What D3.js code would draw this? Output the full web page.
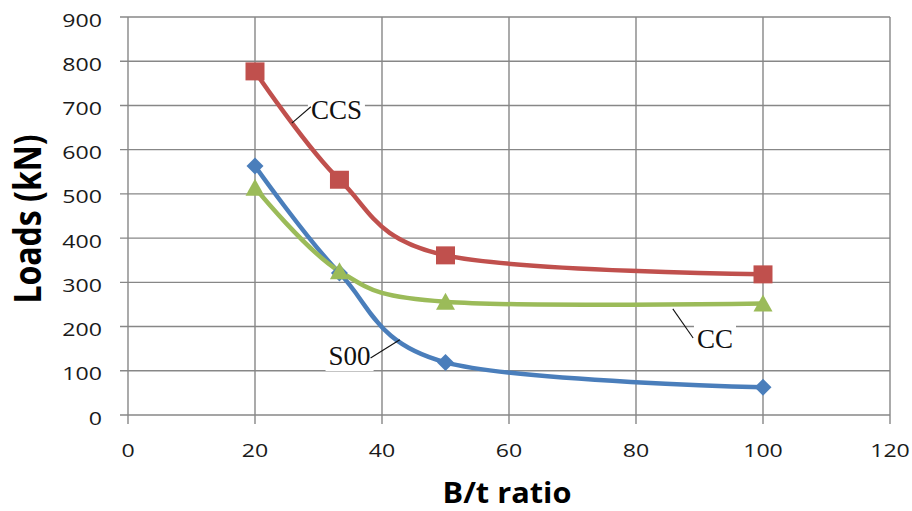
<!DOCTYPE html>
<html>
<head>
<meta charset="utf-8">
<script src="https://cdn.jsdelivr.net/npm/d3@7"></script>
<style>
  html, body { margin: 0; padding: 0; background: #fff; }
  svg { display: block; }
</style>
</head>
<body>
<svg id="chart" width="912" height="511"></svg>
<script>
// B/t ratio of the tested sections
const ratios = [20, 33.3, 50, 100];

// Ultimate loads (kN) per specimen series
const loadsS00 = [563, 321, 119, 63];
const loadsCCS = [777, 532, 361, 318];
const loadsCC  = [514, 325, 256, 252];

const xTicks = [0, 20, 40, 60, 80, 100, 120];
const yTicks = [0, 100, 200, 300, 400, 500, 600, 700, 800, 900];

const seriesNames  = ["S00", "CCS", "CC"];
const seriesValues = [loadsS00, loadsCCS, loadsCC];

// Callout labels: text anchor, leader line ends (data units)
const calloutText   = ["CCS", "S00", "CC"];
const calloutAnchor = [[28.8, 669], [38.2, 113], [89.6, 152]];
const calloutAlign  = ["start", "end", "start"];
const calloutLeader = [[[25.8, 660], [28.8, 697]], [[38.2, 129], [42.8, 170]], [[85.8, 240], [89.0, 174]]];

const svg = d3.select("#chart");
const margin = { left: 128, right: 22, top: 17, bottom: 96 };
const W = 912, H = 511;

const x = d3.scaleLinear().domain([0, 120]).range([margin.left, W - margin.right]);
const y = d3.scaleLinear().domain([0, 900]).range([H - margin.bottom, margin.top]);

const gridColor = "#878787";
const colors = { S00: "#4a7ebb", CCS: "#c0504d", CC: "#9bbb59" };

// Gridlines
svg.append("g").selectAll("line").data(yTicks).join("line")
  .attr("x1", x(0) - 8).attr("x2", x(120))
  .attr("y1", d => y(d)).attr("y2", d => y(d))
  .attr("stroke", gridColor).attr("stroke-width", 1.4);
svg.append("g").selectAll("line").data(xTicks).join("line")
  .attr("x1", d => x(d)).attr("x2", d => x(d))
  .attr("y1", y(900)).attr("y2", y(0) + 9)
  .attr("stroke", gridColor).attr("stroke-width", 1.4);

// Tick labels
const tickFont = "'Open Sans', sans-serif";
svg.append("g").selectAll("text").data(yTicks).join("text")
  .attr("transform", d => `translate(102,${y(d) + 9.5}) scale(1.25,1)`)
  .attr("text-anchor", "end")
  .attr("font-family", tickFont).attr("font-size", 18.5).attr("fill", "#1a1a1a")
  .text(d => d);
svg.append("g").selectAll("text").data(xTicks).join("text")
  .attr("transform", d => `translate(${x(d)},${y(0) + 42}) scale(1.25,1)`)
  .attr("text-anchor", "middle")
  .attr("font-family", tickFont).attr("font-size", 18.5).attr("fill", "#1a1a1a")
  .text(d => d);

// Axis titles
svg.append("text")
  .attr("transform", `translate(507,503) scale(1.06,1)`)
  .attr("text-anchor", "middle")
  .attr("font-family", tickFont).attr("font-weight", 700).attr("font-size", 29)
  .text("B/t ratio");
svg.append("text")
  .attr("transform", `translate(41,219) rotate(-90) scale(1,1.17)`)
  .attr("text-anchor", "middle")
  .attr("font-family", tickFont).attr("font-weight", 700).attr("font-size", 32)
  .text("Loads (kN)");

// Smoothed series lines
const line = d3.line()
  .x((d, i) => x(ratios[i]))
  .y(d => y(d))
  .curve(d3.curveCardinal.tension(0));

// Marker shapes
const markerPath = {
  S00: "M0,-8.5L8.5,0L0,8.5L-8.5,0Z",
  CCS: "M-9.5,-9L9.5,-9L9.5,9L-9.5,9Z",
  CC:  "M0,-9L9.5,8L-9.5,8Z"
};

seriesNames.forEach((name, s) => {
  const vals = seriesValues[s];
  svg.append("path")
    .datum(vals)
    .attr("d", line)
    .attr("fill", "none")
    .attr("stroke", colors[name])
    .attr("stroke-width", 4.5)
    .attr("stroke-linejoin", "round")
    .attr("stroke-linecap", "round");
});
seriesNames.forEach((name, s) => {
  const vals = seriesValues[s];
  svg.append("g").selectAll("path").data(vals).join("path")
    .attr("transform", (d, i) => `translate(${x(ratios[i])},${y(d)})`)
    .attr("d", markerPath[name])
    .attr("fill", colors[name]);
});

// Callout labels with leader lines
calloutText.forEach((t, i) => {
  const [ax, ay] = calloutAnchor[i];
  const g = svg.append("g");
  const txt = g.append("text")
    .attr("x", x(ax)).attr("y", y(ay))
    .attr("text-anchor", calloutAlign[i])
    .attr("font-family", "'Liberation Serif', 'Times New Roman', serif")
    .attr("font-size", 27).attr("fill", "#111")
    .text(t);
  const bb = txt.node().getBBox();
  g.insert("rect", "text")
    .attr("x", bb.x - 3).attr("y", bb.y).attr("width", bb.width + 6).attr("height", bb.height)
    .attr("fill", "#fff");
  const [[x1, y1], [x2, y2]] = calloutLeader[i];
  svg.append("line")
    .attr("x1", x(x1)).attr("y1", y(y1)).attr("x2", x(x2)).attr("y2", y(y2))
    .attr("stroke", "#111").attr("stroke-width", 1.1);
});
</script>
</body>
</html>
